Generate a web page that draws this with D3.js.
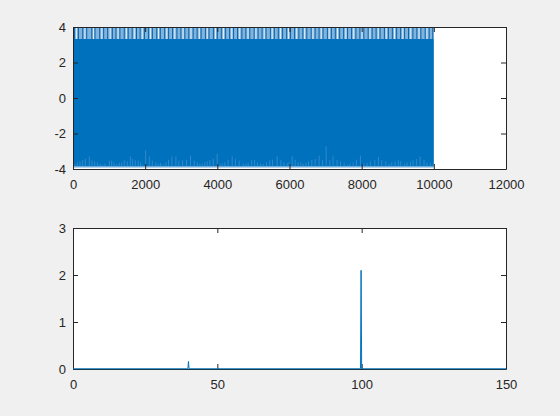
<!DOCTYPE html>
<html>
<head>
<meta charset="utf-8">
<script src="https://cdn.jsdelivr.net/npm/d3@7"></script>
<style>
  body { margin: 0; background: #f0f0f0; }
  svg { display: block; }
  .axis text { font: 13px "Liberation Sans", Arial, sans-serif; fill: #262626; }
  .axis line, .axis path { stroke: #262626; }
</style>
</head>
<body>
<div id="chart"></div>
<script>
// ---- data ----
// top plot: dense 10000-sample signal, drawn as its envelope
var sigSpan     = [0, 10000];
var sigCoreHi   = 3.32;   // solid band top
var sigCoreLo   = -3.84;  // solid band bottom
var sigPeakHi   = 4;      // spikes clipped at the top
var sigPeakLo   = -3.92;
// sample positions of the dark spikes in the top strip
var topDark = [40, 150, 270, 380, 520, 610, 740, 850, 960, 1090, 1190, 1300, 1420, 1530, 1640, 1760, 1860, 1980,
  2090, 2200, 2320, 2420, 2540, 2650, 2760, 2880, 2990, 3100, 3210, 3330, 3440, 3550, 3670, 3770, 3890, 4000,
  4110, 4230, 4340, 4450, 4560, 4680, 4790, 4900, 5020, 5130, 5240, 5350, 5470, 5580, 5690, 5810, 5920, 6030,
  6140, 6260, 6370, 6480, 6600, 6710, 6820, 6930, 7050, 7160, 7270, 7390, 7500, 7610, 7720, 7840, 7950, 8060,
  8180, 8290, 8400, 8510, 8630, 8740, 8850, 8970, 9080, 9190, 9300, 9420, 9530, 9640, 9760, 9870, 9970];
// sample positions of the pale gaps in the top strip
var topGap = [95, 330, 570, 800, 1030, 1250, 1480, 1700, 1920, 2150, 2370, 2600, 2820, 3050, 3270, 3500, 3720,
  3950, 4170, 4400, 4620, 4850, 5070, 5300, 5520, 5750, 5970, 6200, 6420, 6650, 6880, 7100, 7330, 7560, 7780,
  8010, 8230, 8460, 8680, 8910, 9140, 9360, 9590, 9810];
// bottom notches: sample position and the minimum reached there
var notchX = [55, 120, 194, 268, 342, 452, 526, 600, 674, 748, 812, 886, 1006, 1071, 1135, 1209, 1283, 1348,
  1421, 1504, 1588, 1652, 1726, 1809, 1874, 1929, 2012, 2114, 2197, 2298, 2363, 2428, 2501, 2575, 2649, 2741,
  2852, 2935, 3037, 3148, 3258, 3360, 3443, 3517, 3582, 3655, 3720, 3794, 3886, 3997, 4071, 4135, 4209, 4301,
  4412, 4505, 4606, 4717, 4791, 4855, 4948, 5031, 5114, 5197, 5271, 5363, 5455, 5529, 5658, 5760, 5843, 5935,
  5991, 6074, 6157, 6240, 6314, 6378, 6452, 6526, 6618, 6710, 6821, 6914, 7015, 7117, 7209, 7320, 7412, 7514,
  7606, 7671, 7763, 7855, 7966, 8058, 8151, 8243, 8363, 8465, 8557, 8668, 8760, 8834, 8926, 9018, 9083, 9185,
  9258, 9350, 9424, 9517, 9618, 9729, 9812, 9905, 9979];
var notchY = [-3.72, -3.63, -3.57, -3.51, -3.42, -3.29, -3.51, -3.57, -3.63, -3.70, -3.76, -3.70, -3.53, -3.53,
  -3.63, -3.72, -3.66, -3.63, -3.51, -3.57, -3.29, -3.44, -3.51, -3.53, -3.63, -3.76, -2.95, -3.29, -3.53, -3.63,
  -3.70, -3.66, -3.74, -3.63, -3.48, -3.29, -3.29, -3.53, -3.51, -3.48, -3.25, -3.53, -3.63, -3.70, -3.70, -3.63,
  -3.57, -3.51, -3.42, -3.14, -3.70, -3.70, -3.63, -3.48, -3.29, -3.44, -3.53, -3.70, -3.70, -3.66, -3.51, -3.48,
  -3.63, -3.70, -3.72, -3.63, -3.51, -3.48, -3.29, -3.51, -3.63, -3.66, -3.63, -3.29, -3.48, -3.63, -3.63, -3.70,
  -3.66, -3.57, -3.48, -3.44, -3.25, -3.48, -2.72, -3.51, -3.29, -3.48, -3.57, -3.66, -3.76, -3.70, -3.63, -3.48,
  -3.25, -3.70, -3.66, -3.57, -3.48, -3.33, -3.51, -3.57, -3.70, -3.63, -3.57, -3.51, -3.57, -3.70, -3.63, -3.57,
  -3.51, -3.44, -3.29, -3.48, -3.63, -3.66, -3.70];
var topXTicks = [0, 2000, 4000, 6000, 8000, 10000, 12000];
var topYTicks = [-4, -2, 0, 2, 4];

// bottom plot: amplitude spectrum
var specF = [0, 39.8, 40, 40.2, 99.6, 99.8, 100, 150];
var specA = [0.005, 0.005, 0.16, 0.005, 0.005, 2.1, 0.005, 0.005];
var botXTicks = [0, 50, 100, 150];
var botYTicks = [0, 1, 2, 3];

// ---- layout ----
var W = 560, H = 416;
var blue = "#0072BD";
var fmt = function(d) { return String(d); };
var svg = d3.select("#chart").append("svg").attr("width", W).attr("height", H);

function frame(g, x, y, xt, yt) {
  var x0 = x.range()[0], x1 = x.range()[1], y0 = y.range()[0], y1 = y.range()[1];
  g.append("rect").attr("x", x0).attr("y", y1).attr("width", x1 - x0).attr("height", y0 - y1)
    .style("fill", "#fff");
  return function() {
    g.append("g").attr("class", "axis").attr("transform", "translate(0," + y0 + ")")
      .call(d3.axisBottom(x).tickValues(xt).tickFormat(fmt).tickSize(-5).tickPadding(11).tickSizeOuter(0));
    g.append("g").attr("class", "axis").attr("transform", "translate(0," + y1 + ")")
      .call(d3.axisTop(x).tickValues(xt).tickSize(-5).tickFormat("").tickSizeOuter(0));
    g.append("g").attr("class", "axis").attr("transform", "translate(" + x0 + ",0)")
      .call(d3.axisLeft(y).tickValues(yt).tickFormat(fmt).tickSize(-5).tickPadding(7).tickSizeOuter(0));
    g.append("g").attr("class", "axis").attr("transform", "translate(" + x1 + ",0)")
      .call(d3.axisRight(y).tickValues(yt).tickSize(-5).tickFormat("").tickSizeOuter(0));
    g.selectAll(".axis text").attr("fill", "#262626");
    g.selectAll(".axis line, .axis path").attr("stroke", "#262626");
  };
}

// top subplot
var xT = d3.scaleLinear().domain([0, 12000]).range([73, 506]);
var yT = d3.scaleLinear().domain([-4, 4]).range([169, 27]);
var gT = svg.append("g");
var axesT = frame(gT, xT, yT, topXTicks, topYTicks);

// pale strip above/below the solid band
gT.append("rect").attr("x", xT(sigSpan[0])).attr("width", xT(sigSpan[1]) - xT(sigSpan[0]))
  .attr("y", yT(sigPeakHi)).attr("height", yT(sigCoreHi) - yT(sigPeakHi)).style("fill", "#7fb4df");
gT.append("rect").attr("x", xT(sigSpan[0])).attr("width", xT(sigSpan[1]) - xT(sigSpan[0]))
  .attr("y", yT(sigCoreLo)).attr("height", yT(sigPeakLo) - yT(sigCoreLo)).style("fill", "#7fb4df");

gT.selectAll(".gap").data(topGap).enter().append("line")
  .attr("x1", function(d) { return xT(d); }).attr("x2", function(d) { return xT(d); })
  .attr("y1", yT(sigPeakHi)).attr("y2", yT(sigCoreHi))
  .style("stroke", "#e4f0fa").style("stroke-width", 1);
gT.selectAll(".spike").data(topDark).enter().append("line")
  .attr("x1", function(d) { return xT(d); }).attr("x2", function(d) { return xT(d); })
  .attr("y1", yT(sigPeakHi)).attr("y2", yT(sigCoreHi))
  .style("stroke", "#0d62a6").style("stroke-width", 1);

// solid band
var band = d3.area()
  .x(function(d) { return xT(d); })
  .y0(yT(sigCoreLo)).y1(yT(sigCoreHi));
gT.append("path").datum(sigSpan).attr("d", band).style("fill", blue);

// notches at the bottom of the band
gT.selectAll(".notch").data(notchX).enter().append("line")
  .attr("x1", function(d) { return xT(d); }).attr("x2", function(d) { return xT(d); })
  .attr("y1", yT(sigCoreLo)).attr("y2", function(d, i) { return yT(notchY[i]); })
  .style("stroke", "#3d8fcf").style("stroke-width", 0.8);
axesT();

// bottom subplot
var xB = d3.scaleLinear().domain([0, 150]).range([73, 506]);
var yB = d3.scaleLinear().domain([0, 3]).range([369, 228]);
var gB = svg.append("g");
var axesB = frame(gB, xB, yB, botXTicks, botYTicks);
axesB();
var line = d3.line()
  .x(function(d) { return xB(d); })
  .y(function(d, i) { return yB(specA[i]); });
gB.append("path").datum(specF).attr("d", line)
  .style("fill", "none").style("stroke", blue).style("stroke-width", 1);
</script>
</body>
</html>
